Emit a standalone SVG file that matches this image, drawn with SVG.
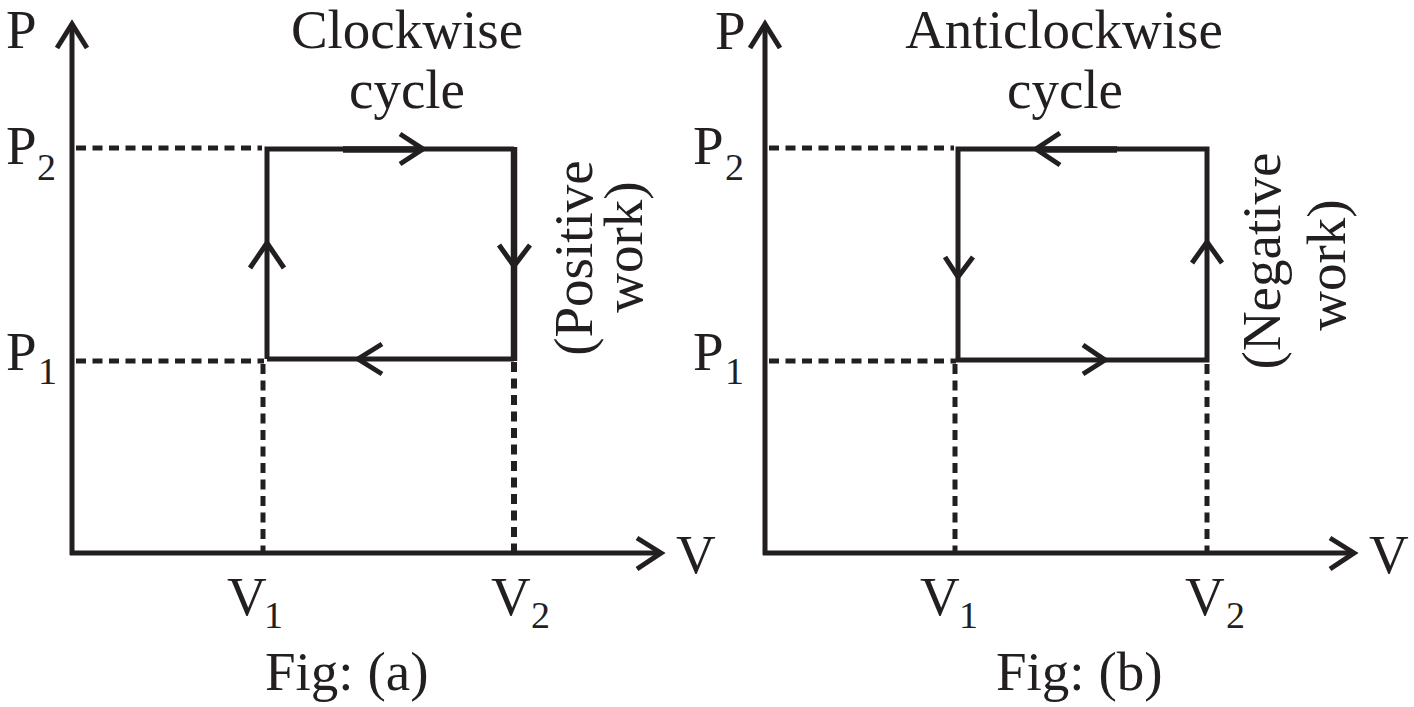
<svg xmlns="http://www.w3.org/2000/svg" width="1414" height="707" viewBox="0 0 1414 707">
<style>
.ax{stroke:#231f20;stroke-width:5;fill:none}
.ah{stroke:#231f20;stroke-width:5;fill:none;stroke-linejoin:miter;stroke-linecap:butt}
.bx{stroke:#231f20;stroke-width:5;fill:none}
.ds{stroke:#231f20;stroke-width:5;fill:none;stroke-dasharray:10 6.5}
.t{font-family:"Liberation Serif","Times New Roman",serif;font-size:55px;fill:#231f20}
.s{font-family:"Liberation Serif","Times New Roman",serif;font-size:38px;fill:#231f20}
.m{text-anchor:middle}
</style>
<rect width="1414" height="707" fill="#ffffff"/>

<g id="fig-a">
  <g id="axes-a">
    <line class="ax" x1="72" y1="555" x2="72" y2="26"/>
    <polyline class="ah" points="57,48 72,24 87,48"/>
    <line class="ax" x1="70" y1="553" x2="659" y2="553"/>
    <polyline class="ah" points="637,538 661,553 637,569"/>
  </g>
  <g id="guides-a">
    <line class="ds" x1="76" y1="148" x2="262" y2="148"/>
    <line class="ds" x1="76" y1="361" x2="264" y2="361"/>
    <line class="ds" x1="263" y1="364" x2="263" y2="551"/>
    <line class="ds" x1="514" y1="362" x2="514" y2="551" style="stroke-width:6"/>
  </g>
  <g id="cycle-a">
    <path class="bx" d="M267,359 L267,149 L514,149"/>
    <line class="bx" x1="267" y1="359" x2="514" y2="359"/>
    <line class="bx" x1="514" y1="147" x2="514" y2="361" style="stroke-width:6.5"/>
    <line class="bx" x1="343" y1="149.5" x2="420" y2="149.5" style="stroke-width:6.5"/>
    <polyline class="ah" points="400,134 423,149 400,164"/>
    <polyline class="ah" points="250,268 267,243 284,268"/>
    <polyline class="ah" points="499,245 514,266 530,245"/>
    <polyline class="ah" points="382,344 358,359 382,374"/>
  </g>
  <g id="labels-a">
    <text class="t" x="6" y="48">P</text>
    <text class="t" x="6" y="164">P</text>
    <text class="s" x="37" y="180">2</text>
    <text class="t" x="6" y="370">P</text>
    <text class="s" x="38" y="384">1</text>
    <text class="t" x="227" y="615">V</text>
    <text class="s" x="264" y="628">1</text>
    <text class="t" x="491" y="615">V</text>
    <text class="s" x="531" y="628">2</text>
    <text class="t" x="676" y="573">V</text>
    <text class="t" x="265" y="690">Fig: (a)</text>
    <text class="t m" x="407" y="48">Clockwise</text>
    <text class="t m" x="407" y="108">cycle</text>
    <text class="t m" transform="translate(592,258) rotate(-90)">(Positive</text>
    <text class="t m" transform="translate(642,247) rotate(-90)">work)</text>
  </g>
</g>

<g id="fig-b">
  <g id="axes-b">
    <line class="ax" x1="765" y1="555" x2="765" y2="26"/>
    <polyline class="ah" points="750,48 765,24 780,48"/>
    <line class="ax" x1="763" y1="553" x2="1352" y2="553"/>
    <polyline class="ah" points="1330,538 1354,553 1330,569"/>
  </g>
  <g id="guides-b">
    <line class="ds" x1="769" y1="148" x2="954" y2="148"/>
    <line class="ds" x1="769" y1="361" x2="956" y2="361"/>
    <line class="ds" x1="955" y1="364" x2="955" y2="551"/>
    <line class="ds" x1="1207" y1="364" x2="1207" y2="551"/>
  </g>
  <g id="cycle-b">
    <rect class="bx" x="958" y="149" width="249" height="211"/>
    <line class="bx" x1="1038" y1="149.5" x2="1117" y2="149.5" style="stroke-width:6.5"/>
    <polyline class="ah" points="1060,133 1036,149 1060,165"/>
    <polyline class="ah" points="945,257 958,277 973,257"/>
    <polyline class="ah" points="1192,263 1207,242 1222,263"/>
    <polyline class="ah" points="1083,345 1105,360 1083,374"/>
  </g>
  <g id="labels-b">
    <text class="t" x="715" y="49">P</text>
    <text class="t" x="693" y="164">P</text>
    <text class="s" x="725" y="180">2</text>
    <text class="t" x="693" y="370">P</text>
    <text class="s" x="725" y="384">1</text>
    <text class="t" x="920" y="615">V</text>
    <text class="s" x="959" y="628">1</text>
    <text class="t" x="1185" y="615">V</text>
    <text class="s" x="1226" y="628">2</text>
    <text class="t" x="1369" y="573">V</text>
    <text class="t" x="996" y="690">Fig: (b)</text>
    <text class="t m" x="1064" y="48">Anticlockwise</text>
    <text class="t m" x="1065" y="108">cycle</text>
    <text class="t m" transform="translate(1280,261) rotate(-90)">(Negative</text>
    <text class="t m" transform="translate(1345,265) rotate(-90)">work)</text>
  </g>
</g>
</svg>
